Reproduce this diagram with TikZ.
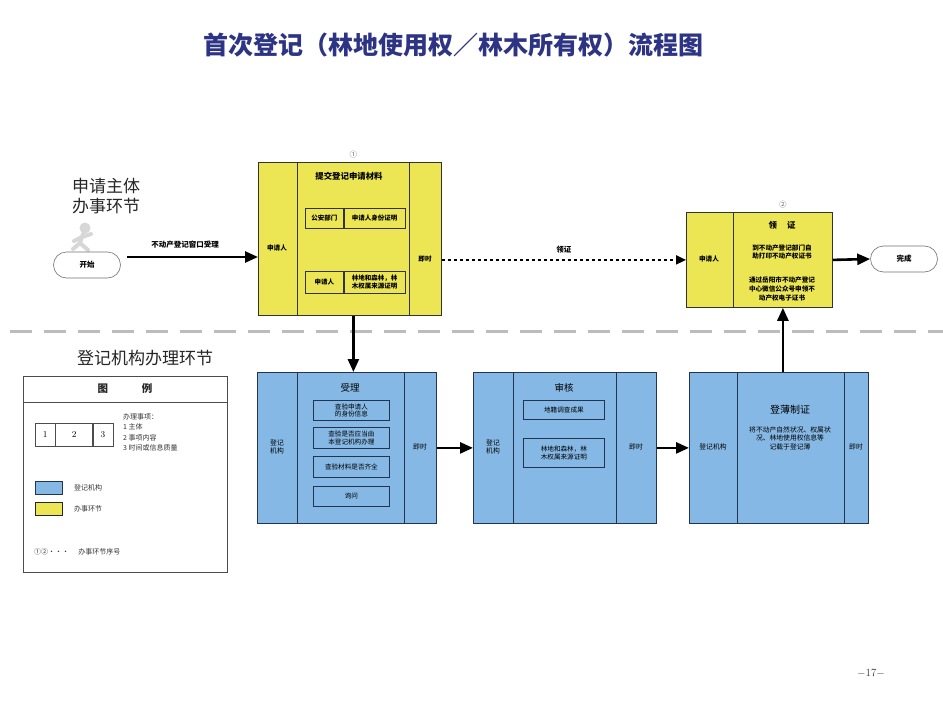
\documentclass[tikz,border=0pt]{standalone}
\usepackage{fontspec}
\newfontfamily\cjk{Noto Sans CJK SC}
\usetikzlibrary{arrows.meta,positioning}
\definecolor{yelfill}{RGB}{236,230,84}
\definecolor{bluefill}{RGB}{133,184,228}
\definecolor{blueline}{RGB}{35,52,80}
\definecolor{titleblue}{RGB}{45,52,132}
\definecolor{dashgray}{RGB}{188,188,188}
\definecolor{figgray}{RGB}{215,215,215}

\begin{document}
\begin{tikzpicture}[x=1pt,y=-1pt,font=\cjk]
\tikzset{ybox/.style 2 args={draw=black!80,fill=yelfill,line width=0.8pt,
  anchor=north west,minimum width=#1,minimum height=#2,inner sep=0pt}}
\tikzset{bbox/.style 2 args={draw=blueline,fill=bluefill,line width=0.8pt,
  anchor=north west,minimum width=#1,minimum height=#2,inner sep=0pt}}
\tikzset{ysub/.style 2 args={draw=black!80,line width=0.7pt,anchor=north west,
  minimum width=#1,minimum height=#2,inner sep=0pt,align=center,
  font=\cjk\bfseries\fontsize{6.5}{7.8}\selectfont}}
\tikzset{bsub/.style 2 args={draw=blueline,line width=0.8pt,anchor=north west,
  minimum width=#1,minimum height=#2,inner sep=0pt,align=center,
  font=\cjk\fontsize{6.6}{7.8}\selectfont}}
\tikzset{ytxt/.style={align=center,inner sep=0pt,font=\cjk\bfseries\fontsize{6.6}{8.6}\selectfont}}
\tikzset{btxt/.style={align=center,inner sep=0pt,font=\cjk\fontsize{6.8}{8.4}\selectfont}}
\tikzset{head/.style={inner sep=0pt,font=\cjk\bfseries\fontsize{8.4}{10}\selectfont}}
\tikzset{flow/.style={line width=2.6pt,-{Triangle[length=13pt,width=11pt]}}}
\tikzset{oval/.style={draw=black!55,line width=0.6pt,rounded corners=13pt,
  minimum width=67pt,minimum height=26pt,font=\cjk\bfseries\fontsize{7.5}{9}\selectfont}}
\tikzset{region/.style={inner sep=0pt,align=left,text=black!85,font=\cjk\fontsize{17}{20}\selectfont}}
\tikzset{legtxt/.style={inner sep=0pt,align=left,text=black!80,font=\cjk\fontsize{7}{10.5}\selectfont}}
\useasboundingbox[fill=white] (0,0) rectangle (943,704);

% title
\node[text=titleblue,font=\cjk\bfseries\fontsize{25}{28}\selectfont] (title) at (453,45)
  {首次登记（林地使用权／林木所有权）流程图};
\node[region,anchor=north west] (upper) at (72,178) {申请主体\\办事环节};
\node[region,anchor=west] (lower) at (77,358) {登记机构办理环节};

% runner
\fill[figgray] (85,228) circle (5.5);
\draw[figgray,line width=4pt,line cap=round] (83,234) -- (80,243) -- (88,250)
  (80,243) -- (73,249) (82,237) -- (91,234) (82,237) -- (74,241);

% start
\node[oval] (start) at (87,265) {开始};
\coordinate (a0) at (127,257);

% yellow step 1
\node[ybox={39pt}{153pt}] (y1l) at (258,162) {};
\node[ybox={112pt}{153pt}] (y1m) at (297,162) {};
\node[ybox={32pt}{153pt}] (y1r) at (409,162) {};
\node[above=4pt of y1m,inner sep=0pt,text=black!60,font=\cjk\fontsize{7.5}{8}\selectfont] (no1) {①};
\node[ytxt] (y1who) at (277,248) {申请人};
\node[ytxt] (y1time) at (425,259) {即时};
\node[head] (y1head) at (349,176) {提交登记申请材料};
\node[ysub={38pt}{20pt}] (m1a) at (305,208) {公安部门};
\node[ysub={61pt}{20pt},right=0pt of m1a.east,anchor=west] (m1b) {申请人身份证明};
\node[ysub={38pt}{22pt}] (m2a) at (305,271) {申请人};
\node[ysub={61pt}{22pt},right=0pt of m2a.east,anchor=west] (m2b) {林地和森林，林\\木权属来源证明};

% yellow step 2
\node[ybox={47pt}{95pt}] (y2l) at (686,212) {};
\node[ybox={99pt}{95pt}] (y2m) at (733,212) {};
\node[above=4pt of y2m,inner sep=0pt,text=black!60,font=\cjk\fontsize{7.5}{8}\selectfont] (no2) {②};
\node[ytxt] (y2who) at (709,259) {申请人};
\node[head] (y2head) at (782,225) {领\hspace{1.2em}证};
\node[ytxt] (y2t1) at (782,252) {到不动产登记部门自\\助打印不动产权证书};
\node[ytxt] (y2t2) at (782,289) {通过岳阳市不动产登记\\中心微信公众号申领不\\动产权电子证书};
\node[oval] (done) at (904,259) {完成};

% divider
\draw[dashgray,line width=3pt,dash pattern=on 22pt off 12pt] (10,331) -- (943,331);

% blue step 1
\node[bbox={40pt}{151pt}] (b1l) at (257,372) {};
\node[bbox={107pt}{151pt}] (b1m) at (297,372) {};
\node[bbox={32pt}{151pt}] (b1r) at (404,372) {};
\node[btxt] (b1who) at (277,447) {登记\\机构};
\node[btxt] (b1time) at (420,447) {即时};
\node[head,font=\cjk\fontsize{9.5}{10}\selectfont] (b1head) at (350,388) {受理};
\node[bsub={76pt}{20pt}] (s1) at (313,400) {查验申请人\\的身份信息};
\node[bsub={76pt}{21pt}] (s2) at (313,427) {查验是否应当由\\本登记机构办理};
\node[bsub={76pt}{21pt}] (s3) at (313,456) {查验材料是否齐全};
\node[bsub={76pt}{20pt}] (s4) at (313,486) {询问};

% blue step 2
\node[bbox={40pt}{151pt}] (b2l) at (473,372) {};
\node[bbox={103pt}{151pt}] (b2m) at (513,372) {};
\node[bbox={40pt}{151pt}] (b2r) at (616,372) {};
\node[btxt] (b2who) at (493,447) {登记\\机构};
\node[btxt] (b2time) at (636,447) {即时};
\node[head,font=\cjk\fontsize{9.5}{10}\selectfont] (b2head) at (564,388) {审核};
\node[bsub={81pt}{19pt}] (s5) at (523,400) {地籍调查成果};
\node[bsub={81pt}{29pt}] (s6) at (523,438) {林地和森林，林\\木权属来源证明};

% blue step 3
\node[bbox={48pt}{151pt}] (b3l) at (689,372) {};
\node[bbox={107pt}{151pt}] (b3m) at (737,372) {};
\node[bbox={24pt}{151pt}] (b3r) at (844,372) {};
\node[btxt] (b3who) at (713,447) {登记机构};
\node[btxt] (b3time) at (856,447) {即时};
\node[head,font=\cjk\fontsize{10}{10}\selectfont] (b3head) at (790,410) {登薄制证};
\node[btxt] (b3t) at (790,438) {将不动产自然状况、权属状\\况、林地使用权信息等\\记载于登记薄};

% connectors
\draw[flow] (a0) -- (a0 -| y1l.west);
\node[ytxt,font=\cjk\bfseries\fontsize{7.5}{9}\selectfont,above=8pt of a0,xshift=58pt] (lab1) {不动产登记窗口受理};
\draw[line width=2pt,dash pattern=on 3pt off 3pt,-{Triangle[length=10pt,width=9pt]}]
  (y1r.east |- y2l.west) -- (y2l.west) node[midway,above=6pt,ytxt,font=\cjk\bfseries\fontsize{7.5}{9}\selectfont] {领证};
\draw[flow] (y2m.east) -- (done.west);
\draw[flow] (y1m.south) -- (y1m.south |- b1m.north);
\draw[flow] (b1r.east) -- (b2l.west);
\draw[flow] (b2r.east) -- (b3l.west);
\draw[flow] (b3m.north -| y2m.south) -- (y2m.south);

% legend
\node[draw=black!70,line width=0.9pt,anchor=north west,minimum width=204pt,minimum height=196pt] (leg) at (23,376) {};
\draw[black!70,line width=0.9pt] ([yshift=-26pt]leg.north west) -- ([yshift=-26pt]leg.north east);
\node[font=\cjk\bfseries\fontsize{10.5}{12}\selectfont,text=black!85] (leghead) at (125,389) {图\hspace{3.2em}例};
\node[draw=black!70,anchor=north west,minimum width=20pt,minimum height=23pt,inner sep=0pt,font=\fontsize{9}{10}\selectfont] (c1) at (35,423) {1};
\node[draw=black!70,minimum width=37pt,minimum height=23pt,inner sep=0pt,right=0pt of c1.east,anchor=west,font=\fontsize{9}{10}\selectfont] (c2) {2};
\node[draw=black!70,minimum width=20pt,minimum height=23pt,inner sep=0pt,right=0pt of c2.east,anchor=west,font=\fontsize{9}{10}\selectfont] (c3) {3};
\node[legtxt,anchor=north west] (legitems) at (123,413) {办理事项：\\1 主体\\2 事项内容\\3 时间或信息质量};
\node[draw=blueline,fill=bluefill,line width=1pt,anchor=north west,minimum width=27pt,minimum height=13pt,inner sep=0pt] (swb) at (35,481) {};
\node[legtxt,anchor=west] (swbtxt) at (74,488) {登记机构};
\node[draw=black!85,fill=yelfill,line width=1pt,anchor=north west,minimum width=27pt,minimum height=13pt,inner sep=0pt] (swy) at (35,502) {};
\node[legtxt,anchor=west] (swytxt) at (74,509) {办事环节};
\node[legtxt,anchor=west] (legno) at (34,552) {①②···\hspace{1.3em}办事环节序号};

% page number
\node[font=\fontsize{11}{12}\selectfont,text=black!80] (page) at (871,673) {$-$17$-$};
\end{tikzpicture}
\end{document}
